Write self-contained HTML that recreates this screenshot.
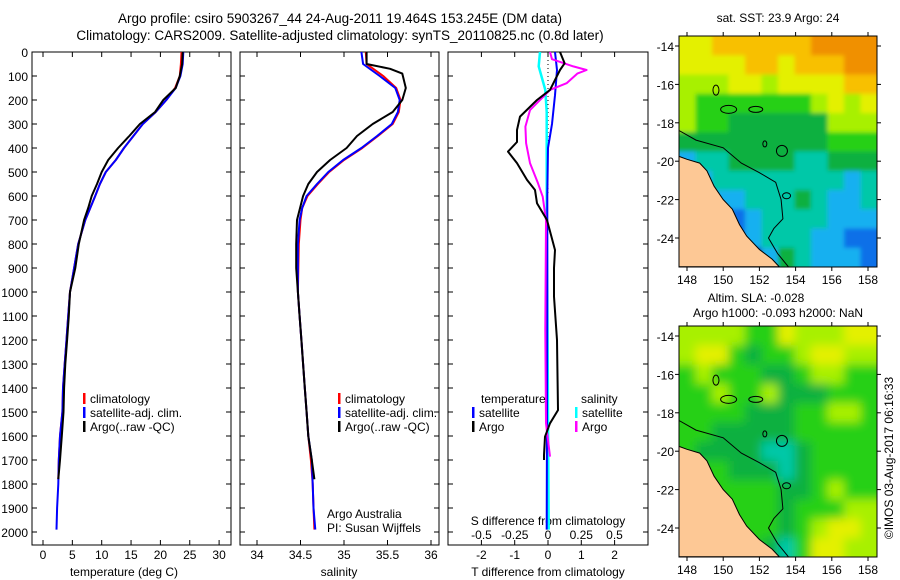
<!DOCTYPE html>
<html><head><meta charset="utf-8"><style>
html,body{margin:0;padding:0;background:#fff;}
svg{display:block;font-family:"Liberation Sans",sans-serif;}
</style></head><body>
<svg id="fig" width="900" height="580" viewBox="0 0 900 580" xmlns="http://www.w3.org/2000/svg">
<defs>
<filter id="blurS" x="-5%" y="-5%" width="110%" height="110%"><feGaussianBlur stdDeviation="2"/></filter>
<filter id="blurL" x="-5%" y="-5%" width="110%" height="110%"><feGaussianBlur stdDeviation="5"/></filter>
<clipPath id="clip1"><rect x="679" y="36" width="198" height="231"/></clipPath>
<clipPath id="clip2"><rect x="679" y="326" width="198" height="231"/></clipPath>
</defs>
<text x="340" y="23" font-size="13.5" text-anchor="middle">Argo profile: csiro 5903267_44 24-Aug-2011 19.464S 153.245E (DM data)</text>
<text x="340" y="40" font-size="13.5" text-anchor="middle">Climatology: CARS2009. Satellite-adjusted climatology: synTS_20110825.nc (0.8d later)</text>
<g id="g"></g>
</svg>
<script>
// ---- profile data ----
const tClimD=[0,50,100,150,200,250,300,350,400,450,500,550,600,700,800,900,1000,1100,1200,1300,1400,1500,1600,1700,1780];
const tClimV=[23.6,23.5,23.3,22.5,21,19.2,17,15.4,13.8,12.4,10.7,9.7,8.9,7.2,6,5.3,4.6,4.3,4,3.7,3.4,3.3,2.9,2.7,2.6];
const tSatD=[0,50,100,150,200,250,300,350,400,450,500,550,600,700,800,900,1000,1100,1200,1300,1400,1500,1600,1700,1800,1900,1990];
const tSatV=[23.9,23.8,23.4,22.6,21,19.2,17,15.4,13.8,12.4,10.7,9.7,8.9,7.2,6,5.3,4.6,4.3,4,3.7,3.4,3.3,2.9,2.7,2.6,2.4,2.3];
const tArgoD=[0,50,100,150,200,250,300,350,400,450,500,550,600,650,700,800,900,1000,1100,1200,1300,1400,1500,1600,1700,1780];
const tArgoV=[23.8,23.7,23.3,22.6,20.5,19.1,16.5,14.7,12.8,11.1,10,9.2,8.3,7.7,7,6.1,5.5,4.6,4.4,4.1,3.8,3.6,3.5,3.2,2.9,2.6];
const sClimD=[0,50,100,150,200,250,300,350,400,450,500,550,600,650,700,800,1000,1100,1200,1300,1400,1500,1600,1700,1800,1900,1990];
const sClimV=[35.25,35.26,35.45,35.6,35.65,35.63,35.56,35.39,35.21,35.0,34.83,34.7,34.58,34.52,34.5,34.48,34.47,34.49,34.51,34.53,34.55,34.57,34.59,34.62,34.64,34.65,34.66];
const sSatV=[35.2,35.22,35.41,35.59,35.64,35.62,35.55,35.38,35.2,34.99,34.82,34.69,34.57,34.52,34.49,34.47,34.47,34.49,34.51,34.53,34.55,34.57,34.59,34.63,34.64,34.65,34.67];
const sArgoD=[0,50,70,90,150,200,250,300,350,400,450,500,550,600,700,800,900,1000,1100,1200,1300,1400,1500,1600,1700,1780];
const sArgoV=[35.26,35.26,35.53,35.67,35.71,35.67,35.56,35.33,35.15,35.03,34.84,34.69,34.59,34.53,34.46,34.45,34.45,34.47,34.49,34.51,34.53,34.55,34.57,34.59,34.63,34.66];
// differences
const dTArgoD=[0,47,75,158,200,269,325,375,415,463,533,575,630,700,825,900,1019,1200,1492,1547,1603,1679,1700];
const dTArgoV=[0.36,0.5,0.36,0.06,-0.33,-0.84,-0.93,-0.93,-1.2,-0.93,-0.63,-0.39,-0.33,-0.03,0.21,0.18,0.18,0.27,0.3,0.06,-0.09,-0.12,-0.12];
const dTSatD=[0,75,180,300,400,600,1000,1500,1990];
const dTSatV=[0.21,0.27,0.21,0.12,0.0,-0.02,-0.02,-0.03,-0.04];
const dSArgoD=[0,30,60,75,90,130,158,242,311,380,463,547,603,700,1158,1547,1686];
const dSArgoV=[0.015,0.03,0.19,0.29,0.22,0.14,0.015,-0.135,-0.17,-0.165,-0.135,-0.075,-0.04,-0.015,-0.02,-0.015,0.015];
const dSSatD=[0,60,158,250,600,1000,1500,1990];
const dSSatV=[-0.06,-0.07,-0.02,-0.01,-0.01,-0.005,0,0.005];
const depthTicks=[0,100,200,300,400,500,600,700,800,900,1000,1100,1200,1300,1400,1500,1600,1700,1800,1900,2000];
const tTicks=[0,5,10,15,20,25,30];
const sTicks=[34,34.5,35,35.5,36];
const sTickLabels=["34","34.5","35","35.5","36"];
const dTTicks=[-2,-1,0,1,2];
const dSTicks=[-0.5,-0.25,0,0.25,0.5];
const dSTickLabels=["-0.5","-0.25","0","0.25","0.5"];
// ---- map data (values 1..10 colour index; rows lat -14..-25, cols lon 148..158.5) ----
const sstGrid=[
[8,8,9,9,9,9,9,9,10,10,10,10],
[8,8,8,8,9,9,8,9,9,9,10,10],
[7,7,7,8,8,7,8,8,8,8,9,9],
[7,6,6,6,6,6,6,6,7,8,7,8],
[7,6,6,5,5,5,5,5,5,7,7,7],
[5,5,5,5,5,5,5,5,5,6,6,6],
[3,4,4,5,5,5,5,4,4,5,5,5],
[3,3,4,4,4,4,4,4,4,4,3,4],
[3,3,3,3,4,4,4,5,4,3,3,4],
[3,3,2,2,3,4,4,4,4,3,3,3],
[2,2,2,2,3,4,4,4,3,3,2,2],
[2,2,2,1,1,3,5,4,3,3,3,2]];
const slaGrid=[
[7,7,7,7,6,6,8,7,7,7,8,8],
[7,8,8,6,5,6,6,7,8,8,7,7],
[6,7,6,6,6,5,5,6,7,7,6,6],
[6,6,7,6,6,7,5,5,5,6,6,6],
[6,6,6,6,5,5,5,6,6,7,7,6],
[6,6,5,5,5,5,5,6,6,6,6,6],
[6,5,5,5,5,4,4,5,6,6,6,6],
[6,6,6,5,5,5,4,5,6,6,6,6],
[6,6,6,6,6,6,5,5,6,7,6,6],
[6,6,6,6,6,6,5,6,6,6,7,7],
[6,6,6,6,6,6,5,6,7,8,8,7],
[6,6,6,6,6,5,4,6,8,8,7,7]];
const palette=["#fff","#1030b0","#1070e8","#18b0f0","#00c8a8","#10b040","#28d014","#a8f000","#e4f000","#f8c000","#f09000"];
const coastLon=[147.56,148,148.7,149.1,149.5,150,150.5,150.9,151.3,152,152.7,153.1,147.56];
const coastLat=[-19.75,-19.9,-20.1,-20.5,-21.3,-22,-22.5,-23.3,-23.9,-24.6,-25.1,-25.5,-25.5];
const shelfLon=[147.56,148.5,150,151,152,152.9,153.2,153.3,152.8,152.5,153,153.6];
const shelfLat=[-18.4,-18.9,-19.3,-20.1,-20.6,-21.1,-22,-23,-23.5,-24,-24.8,-25.5];
const lonTicks=[148,150,152,154,156,158];
const latTicks=[-14,-16,-18,-20,-22,-24];

const NS="http://www.w3.org/2000/svg";
const G=document.getElementById('g');
function el(tag,attrs,parent){const e=document.createElementNS(NS,tag);for(const k in attrs)e.setAttribute(k,attrs[k]);(parent||G).appendChild(e);return e;}
function txt(x,y,s,size,anchor,name,parent){const t=el('text',{x:x,y:y,'font-size':size,'text-anchor':anchor||'middle'},parent);t.textContent=s;


return t;}
const TOP=52,BOT=545;
const yD=d=>TOP+d*0.24;
function panel(x0,x1,name){const r=el('rect',{x:x0,y:TOP,width:x1-x0,height:BOT-TOP,fill:'none',stroke:'#000','stroke-width':1});


}
function line(D,V,xf,color,name,w){const pts=D.map((d,i)=>xf(V[i]).toFixed(1)+','+yD(d).toFixed(1)).join(' ');
const p=el('polyline',{points:pts,fill:'none',stroke:color,'stroke-width':w||2,'stroke-linejoin':'round'});


}
function xticks(ticks,labels,xf,y0,ly){ticks.forEach((t,i)=>{const x=xf(t);el('line',{x1:x,y1:BOT,x2:x,y2:BOT-5,stroke:'#000'});el('line',{x1:x,y1:TOP,x2:x,y2:TOP+5,stroke:'#000'});txt(x,ly,labels[i],12,'middle','x-tick-label');});}
function yticks(x0,x1){depthTicks.forEach(d=>{const y=yD(d);el('line',{x1:x0,y1:y,x2:x0+5,y2:y,stroke:'#000'});el('line',{x1:x1,y1:y,x2:x1-5,y2:y,stroke:'#000'});});}
function legendEntry(x,y,color,label,name){const r=el('rect',{x:x,y:y-10,width:2.5,height:11,fill:color});


txt(x+7,y,label,12,'start',name);}

// Panel 1 temperature
const xT=t=>43+t*5.87;
panel(32,231,'temperature-panel');
yticks(32,231);
depthTicks.forEach(d=>txt(28,yD(d)+5,String(d),12,'end','depth-tick-label'));
xticks(tTicks,tTicks.map(String),xT,BOT,559);
txt(124,576,'temperature (deg C)',12,'middle','x-axis-title-temperature');
line(tClimD,tClimV,xT,'#f00','temp-climatology-line');
line(tSatD,tSatV,xT,'#00f','temp-satellite-line');
line(tArgoD,tArgoV,xT,'#000','temp-argo-line');
legendEntry(83,403,'#f00','climatology','legend-climatology');
legendEntry(83,417,'#00f','satellite-adj. clim.','legend-satellite');
legendEntry(83,431,'#000','Argo(..raw -QC)','legend-argo');

// Panel 2 salinity
const xS=s=>257+(s-34)*87;
panel(240,439,'salinity-panel');
yticks(240,439);
xticks(sTicks,sTickLabels,xS,BOT,559);
txt(339,576,'salinity',12,'middle','x-axis-title-salinity');
line(sClimD,sClimV,xS,'#f00','sal-climatology-line');
line(sClimD,sSatV,xS,'#00f','sal-satellite-line');
line(sArgoD,sArgoV,xS,'#000','sal-argo-line');
legendEntry(338,403,'#f00','climatology','legend-climatology-2');
legendEntry(338,417,'#00f','satellite-adj. clim.','legend-satellite-2');
legendEntry(338,431,'#000','Argo(..raw -QC)','legend-argo-2');
txt(327,518,'Argo Australia',12,'start','credit-argo-australia');
txt(327,532,'PI: Susan Wijffels',12,'start','credit-pi');

// Panel 3 differences
const xDT=v=>548+v*33.3, xDS=v=>548+v*133;
panel(448,648,'difference-panel');
yticks(448,648);
xticks(dTTicks,dTTicks.map(String),xDT,BOT,559);
dSTicks.forEach((t,i)=>txt(xDS(t),539,dSTickLabels[i],12,'middle','s-diff-tick-label'));
txt(548,525,'S difference from climatology',12,'middle','s-diff-axis-title');
txt(548,576,'T difference from climatology',12,'middle','t-diff-axis-title');
el('line',{x1:548,y1:TOP,x2:548,y2:yD(600),stroke:'#000','stroke-dasharray':'1,3'});
line(dSSatD,dSSatV,xDS,'#00ffff','s-diff-satellite-line',2.5);
line(dTSatD,dTSatV,xDT,'#00f','t-diff-satellite-line');
line(dSArgoD,dSArgoV,xDS,'#ff00ff','s-diff-argo-line');
line(dTArgoD,dTArgoV,xDT,'#000','t-diff-argo-line');
txt(481,403,'temperature',12,'start','legend-temperature-heading');
legendEntry(472,417,'#00f','satellite','legend-t-satellite');
legendEntry(472,431,'#000','Argo','legend-t-argo');
txt(581,403,'salinity',12,'start','legend-salinity-heading');
legendEntry(575,417,'#00ffff','satellite','legend-s-satellite');
legendEntry(575,431,'#ff00ff','Argo','legend-s-argo');

// Maps
function map(top,grid,name,clip,blur){
  const L=679,R=877,B=top+231;
  const mx=lon=>687+(lon-148)*18.1, my=lat=>top+10+(-14-lat)*19.2;
  const g=el('g',{});
  
  
  const cg=el('g',{'clip-path':'url(#'+clip+')'},g);
  const fg=el('g',{filter:'url(#'+blur+')'},cg);
  const cw=(R-L)/12, ch=(B-top)/12;
  grid.forEach((row,r)=>row.forEach((v,c)=>{
    const x0=L+c*cw-(c===0?12:0), y0=top+r*ch-(r===0?12:0);
    const w=cw+0.6+(c===0?12:0)+(c===11?12:0), h=ch+0.6+(r===0?12:0)+(r===11?12:0);
    const cell=el('rect',{x:x0.toFixed(1),y:y0.toFixed(1),width:w.toFixed(1),height:h.toFixed(1),fill:palette[v]},fg);
    
    
  }));
  const land=el('polygon',{points:coastLon.map((lo,i)=>mx(lo).toFixed(1)+','+my(coastLat[i]).toFixed(1)).join(' '),fill:'#fdc895',stroke:'#000','stroke-width':1},g);
  
  
  const sh=el('polyline',{points:shelfLon.map((lo,i)=>mx(lo).toFixed(1)+','+my(shelfLat[i]).toFixed(1)).join(' '),fill:'none',stroke:'#000','stroke-width':1},g);
  
  
  const c=el('circle',{cx:mx(153.245),cy:my(-19.464),r:5.5,fill:'none',stroke:'#000','stroke-width':1},g);
  
  
  [[150.3,-17.3,8,4],[151.8,-17.3,7,3],[149.6,-16.3,3,5],[152.3,-19.1,2,3],[153.5,-21.8,4,3]].forEach(e=>{el('ellipse',{cx:mx(e[0]),cy:my(e[1]),rx:e[2],ry:e[3],fill:'none',stroke:'#000'},g);});
  const fr=el('rect',{x:L,y:top,width:R-L,height:B-top,fill:'none',stroke:'#000'},g);
  
  
  lonTicks.forEach(lo=>{const x=mx(lo);el('line',{x1:x,y1:top,x2:x,y2:top-4,stroke:'#000'},g);el('line',{x1:x,y1:B,x2:x,y2:B+4,stroke:'#000'},g);txt(x,B+17,String(lo),12,'middle','lon-tick-label',g);});
  latTicks.forEach(la=>{const y=my(la);el('line',{x1:L,y1:y,x2:L-4,y2:y,stroke:'#000'},g);el('line',{x1:R,y1:y,x2:R+4,y2:y,stroke:'#000'},g);txt(674,y+5,String(la),12,'end','lat-tick-label',g);});
}
map(36,sstGrid,'sst-map','clip1','blurS');
map(326,slaGrid,'sla-map','clip2','blurL');
txt(778,22,'sat. SST: 23.9 Argo: 24',12,'middle','sst-map-title');
txt(756,302,'Altim. SLA: -0.028',12,'middle','sla-map-title');
txt(778,317,'Argo h1000: -0.093 h2000: NaN',12,'middle','sla-map-subtitle');
const stamp=txt(0,0,'©IMOS 03-Aug-2017 06:16:33',12,'middle','timestamp');
stamp.setAttribute('transform','translate(893,458) rotate(-90)');
</script>
</body></html>
